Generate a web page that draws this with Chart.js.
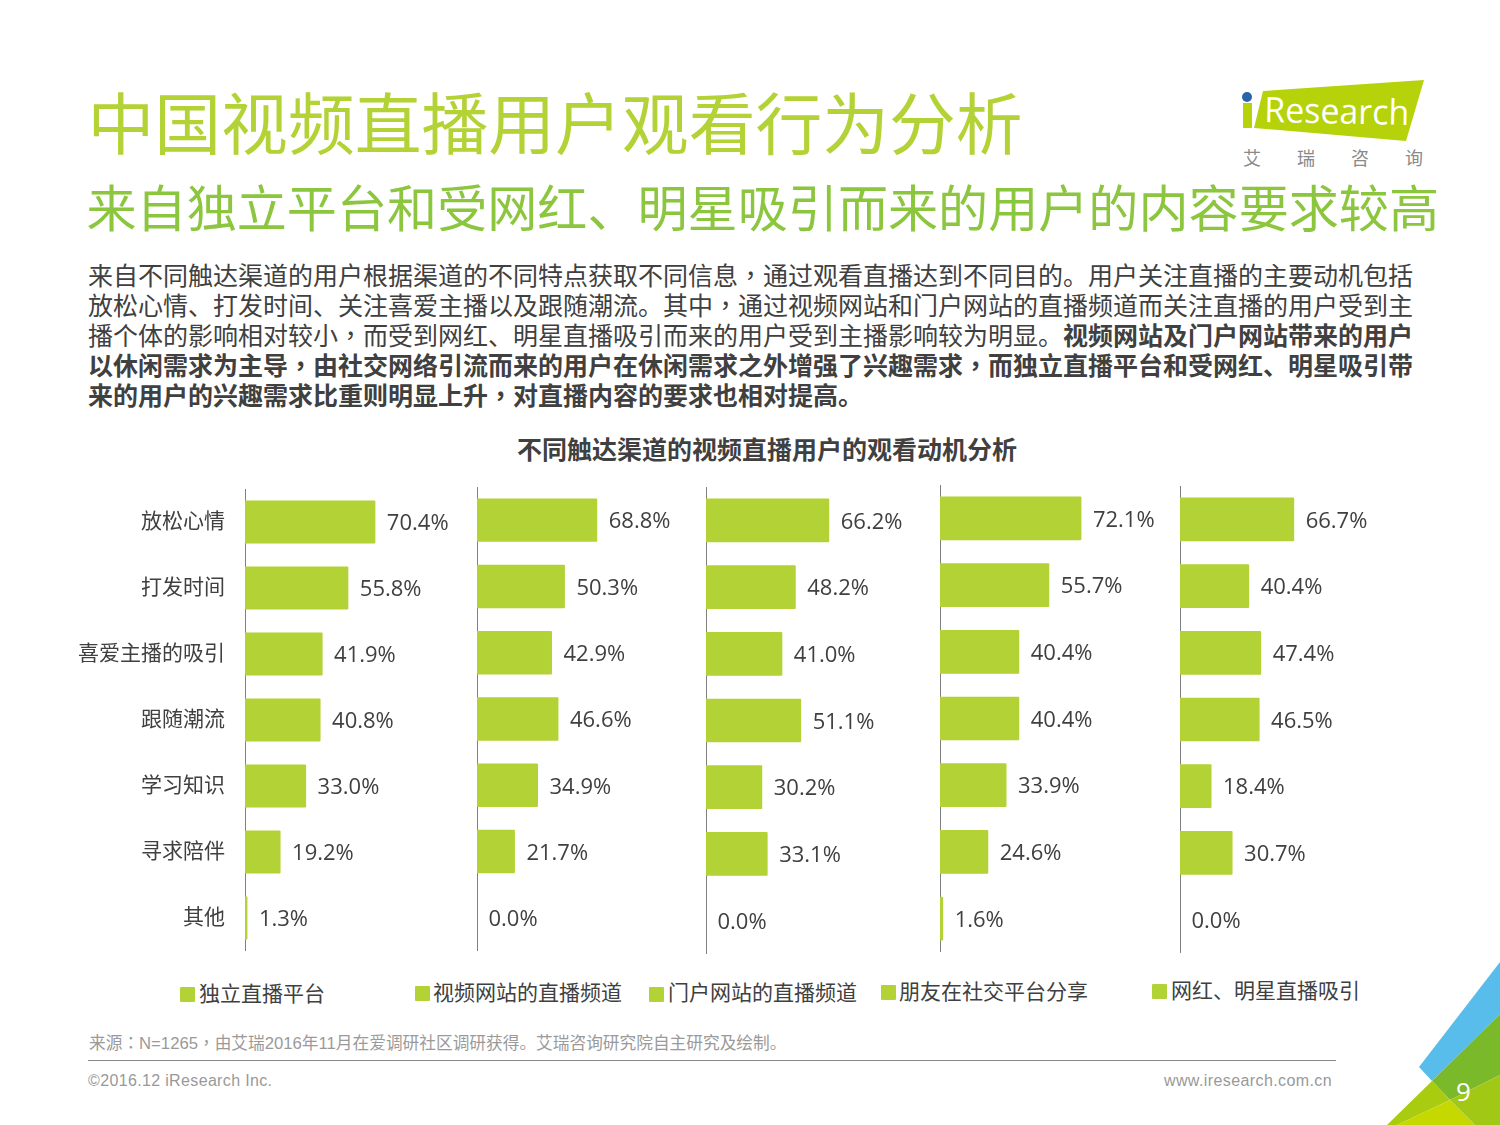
<!DOCTYPE html>
<html lang="zh-Hans">
<head>
<meta charset="utf-8">
<script src="https://cdn.jsdelivr.net/npm/chart.js@4"></script>
<style>
html,body{margin:0;padding:0;background:#fff;width:1500px;height:1125px;overflow:hidden}
body{position:relative;font-family:"Open Sans","Noto Sans CJK SC",sans-serif;color:#404040}
.t{position:absolute;white-space:nowrap;font-family:"Noto Sans CJK SC",sans-serif}
.c{font-family:"Noto Sans CJK TC",sans-serif}
canvas{position:absolute;display:block}
svg{position:absolute;left:0;top:0}
.sw{position:absolute;width:15px;height:15px;background:#b2d235;border-radius:1px}
</style>
</head>
<body>
<svg width="1500" height="1125" viewBox="0 0 1500 1125">
  <polygon points="1263,91 1424,80 1406,141 1254,128" fill="#b5d20a"/>
  <rect x="1243" y="103" width="9" height="25" fill="#b5d20a"/>
  <circle cx="1247" cy="97" r="5" fill="#2a64a8"/>
  <text x="1264" y="122" font-family="Open Sans" font-size="35" fill="#fff" textLength="145" lengthAdjust="spacingAndGlyphs" transform="rotate(1.2 1264 122)">Research</text>
  <polygon points="1419,1067 1500,962 1500,1014 1432,1081" fill="#59bdec"/>
  <polygon points="1432,1081 1500,1014 1500,1075 1450,1100" fill="#7ab929"/>
  <polygon points="1387,1125 1432,1081 1450,1100 1397,1125" fill="#a9cc10"/>
  <polygon points="1397,1125 1450,1100 1475,1125" fill="#c5d800"/>
  <polygon points="1450,1100 1500,1075 1500,1125 1475,1125" fill="#a0c814"/>
</svg>
<div class="t" style="left:1243px;top:145px;font-size:18px;line-height:24px;color:#8a8a8a;letter-spacing:36px">艾瑞咨询</div>
<div class="t" style="left:87.5px;top:75px;font-size:66.8px;line-height:90px;color:#b2d235">中国视频直播用户观看行为分析</div>
<div class="t" style="left:86.5px;top:168px;font-size:50.1px;line-height:74px;color:#8cc63f">来自独立平台和受网红、明星吸引而来的用户的内容要求较高</div>
<div class="t" style="left:88px;top:259px;font-size:25px;line-height:30px">来自不同触达渠道的用户根据渠道的不同特点获取不同信息，通过观看直播达到不同目的。用户关注直播的主要动机包括</div>
<div class="t" style="left:88px;top:289px;font-size:25px;line-height:30px">放松心情、打发时间、关注喜爱主播以及跟随潮流。其中，通过视频网站和门户网站的直播频道而关注直播的用户受到主</div>
<div class="t" style="left:88px;top:319px;font-size:25px;line-height:30px">播个体的影响相对较小，而受到网红、明星直播吸引而来的用户受到主播影响较为明显。<b>视频网站及门户网站带来的用户</b></div>
<div class="t" style="left:88px;top:349px;font-size:25px;line-height:30px"><b>以休闲需求为主导，由社交网络引流而来的用户在休闲需求之外增强了兴趣需求，而独立直播平台和受网红、明星吸引带</b></div>
<div class="t" style="left:88px;top:379px;font-size:25px;line-height:30px"><b>来的用户的兴趣需求比重则明显上升，对直播内容的要求也相对提高。</b></div>
<div class="t" style="left:517px;top:431px;font-size:25px;line-height:34px;font-weight:700">不同触达渠道的视频直播用户的观看动机分析</div>

<canvas id="c0"></canvas><canvas id="c1"></canvas><canvas id="c2"></canvas><canvas id="c3"></canvas><canvas id="c4"></canvas>
<div id="legend"></div>

<div class="t" style="left:89px;top:1030px;font-family:'Liberation Sans','Noto Sans CJK SC',sans-serif;font-size:16.7px;line-height:24px;color:#9a9a9a">来源：N=1265，由艾瑞2016年11月在爱调研社区调研获得。艾瑞咨询研究院自主研究及绘制。</div>
<div style="position:absolute;left:88px;top:1060px;width:1248px;height:1px;background:#888"></div>
<div class="t" style="left:88px;top:1070px;font:16px/22px 'Liberation Sans';color:#999;letter-spacing:.35px">©2016.12 iResearch Inc.</div>
<div class="t" style="right:168px;top:1070px;font:16px/22px 'Liberation Sans';color:#999;letter-spacing:.4px">www.iresearch.com.cn</div>
<div class="t" style="left:1456px;top:1073px;font:26px/36px 'Open Sans';color:#fff">9</div>

<script>
const categories = ['放松心情','打发时间','喜爱主播的吸引','跟随潮流','学习知识','寻求陪伴','其他'];
const seriesNames = ['独立直播平台','视频网站的直播频道','门户网站的直播频道','朋友在社交平台分享','网红、明星直播吸引'];
const independentPlatform = [70.4,55.8,41.9,40.8,33.0,19.2,1.3];
const videoSites = [68.8,50.3,42.9,46.6,34.9,21.7,0.0];
const portalSites = [66.2,48.2,41.0,51.1,30.2,33.1,0.0];
const socialShare = [72.1,55.7,40.4,40.4,33.9,24.6,1.6];
const influencers = [66.7,40.4,47.4,46.5,18.4,30.7,0.0];
const allSeries = [independentPlatform,videoSites,portalSites,socialShare,influencers];

// panel frames: canvas left, top, width, height, y-axis gutter, x-axis maximum
const panels = [
  {left:60,  top:489,  width:410,height:462,gutter:185,max:121.5},
  {left:476, top:487,  width:224,height:464,gutter:1,  max:127.6},
  {left:705, top:487,  width:230,height:467,gutter:1,  max:123.0},
  {left:939, top:485,  width:236,height:467,gutter:1,  max:119.8},
  {left:1179,top:486,  width:241,height:467,gutter:1,  max:140.2}
];
const legendSwatch = [[180,987],[415,986],[649,987],[881,985],[1152,984]];
const legendText = [[199,992],[433,991],[668,991],[899,990],[1171,989]];

const FONT = '"Open Sans","Noto Sans CJK SC",sans-serif';
const valueLabels = {
  id:'valueLabels',
  afterUpdate(chart){
    // nudge the CJK tick labels up to sit on the bar centre optically
    const s = chart.scales.y;
    if(!s._nudged){
      const orig = s.drawLabels;
      s.drawLabels = function(a){const c=this.ctx;c.save();c.translate(0,-1.5);orig.call(this,a);c.restore();};
      s._nudged = true;
    }
  },
  afterDatasetsDraw(chart){
    const {ctx} = chart;
    const meta = chart.getDatasetMeta(0);
    ctx.save();
    ctx.font = '22px '+FONT;
    ctx.fillStyle = '#404040';
    ctx.textBaseline = 'middle';
    meta.data.forEach((bar,i)=>{
      ctx.fillText(chart.data.datasets[0].data[i].toFixed(1)+'%', bar.x+11.5, bar.y+2);
    });
    ctx.restore();
  }
};

panels.forEach((p,i)=>{
  const cv = document.getElementById('c'+i);
  cv.width = p.width; cv.height = p.height;
  cv.style.left = p.left+'px'; cv.style.top = p.top+'px';
  cv.style.width = p.width+'px'; cv.style.height = p.height+'px';
  new Chart(cv,{
    type:'bar',
    data:{labels:categories,datasets:[{label:seriesNames[i],data:allSeries[i],backgroundColor:'#b2d235',
      borderRadius:1,barPercentage:0.655,categoryPercentage:1}]},
    options:{
      indexAxis:'y',responsive:false,animation:false,devicePixelRatio:1,
      layout:{padding:0},
      plugins:{legend:{display:false},tooltip:{enabled:false},title:{display:false}},
      scales:{
        x:{display:false,min:0,max:p.max},
        y:{
          grid:{display:false,drawTicks:false},
          border:{display:true,color:'#808080',width:1},
          ticks:{display:i===0,padding:20,autoSkip:false,color:'#404040',font:{family:'"Noto Sans CJK SC",sans-serif',size:21}},
          afterFit(s){s.width=p.gutter;s.paddingTop=0;s.paddingBottom=0;}
        }
      }
    },
    plugins:[valueLabels]
  });
});

const lg = document.getElementById('legend');
seriesNames.forEach((n,i)=>{
  const sw = document.createElement('div');
  sw.className='sw';
  sw.style.left=legendSwatch[i][0]+'px'; sw.style.top=legendSwatch[i][1]+'px';
  lg.appendChild(sw);
  const t = document.createElement('div');
  t.className='t'; t.textContent=n;
  t.style.cssText+=`left:${legendText[i][0]}px;top:${legendText[i][1]-15}px;font-size:21px;line-height:30px;`;
  lg.appendChild(t);
});
// centred full-width comma and colon, as in the reference
document.querySelectorAll('.t, .t b').forEach(el=>{
  [...el.childNodes].forEach(n=>{
    if(n.nodeType===3 && /[，：]/.test(n.textContent)){
      const s=document.createElement('span');
      s.innerHTML=n.textContent.replace(/[，：]/g,m=>`<span class="c" lang="zh-Hant-TW">${m}</span>`);
      n.replaceWith(s);
    }
  });
});
</script>
</body>
</html>
